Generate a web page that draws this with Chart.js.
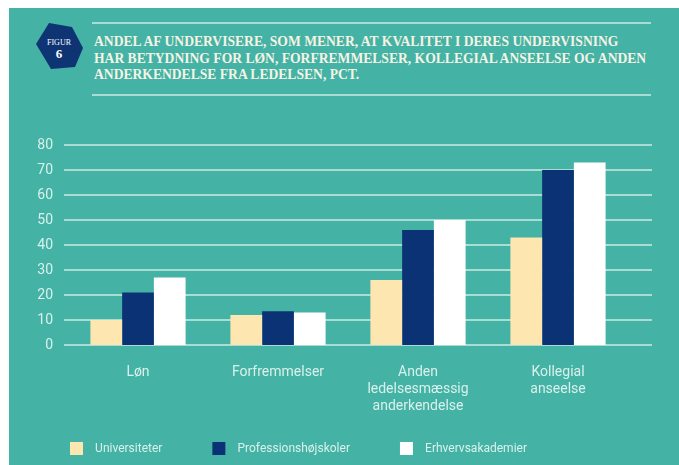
<!DOCTYPE html>
<html>
<head>
<meta charset="utf-8">
<script src="https://cdn.jsdelivr.net/npm/chart.js@4.4.0/dist/chart.umd.min.js"></script>
<style>
    html, body { margin: 0; padding: 0; background: #fff; }
    body { width: 679px; height: 465px; position: relative; overflow: hidden; }
    .panel { position: absolute; left: 9px; top: 8px; right: 0; bottom: 0; background: #44b2a5; }
    .rule { position: absolute; left: 92px; width: 559px; height: 2px; background: #a9ddd4; }
    .title {
        position: absolute; left: 94px; top: 34px; width: 580px;
        font-family: "Liberation Serif", serif; font-weight: bold; font-size: 13.6px;
        line-height: 16.7px; color: #f6f3e4; white-space: nowrap;
    }
    .badge { position: absolute; left: 35px; top: 21px; }
    #wrap { position: absolute; left: 0; top: 0; width: 679px; height: 465px; }
</style>
</head>
<body>
<div class="panel"></div>
<div class="rule" style="top:22px"></div>
<div class="rule" style="top:94px"></div>
<svg class="badge" width="50" height="50" viewBox="0 0 50 50">
    <polygon points="14,2 37,6 48,27 40,46 16,48 1,23" fill="#0e3474"/>
    <text x="24" y="24" text-anchor="middle" font-family="Liberation Serif, serif" font-size="8" fill="#fff">FIGUR</text>
    <text x="24" y="37" text-anchor="middle" font-family="Liberation Serif, serif" font-weight="bold" font-size="13" fill="#fff">6</text>
</svg>
<div class="title">ANDEL AF UNDERVISERE, SOM MENER, AT KVALITET I DERES UNDERVISNING<br>HAR BETYDNING FOR LØN, FORFREMMELSER, KOLLEGIAL ANSEELSE OG ANDEN<br>ANDERKENDELSE FRA LEDELSEN, PCT.</div>
<div id="wrap"><canvas id="chart" width="679" height="465"></canvas></div>

<script>
// Data
const categories = ['Løn', 'Forfremmelser', ['Anden', 'ledelsesmæssig', 'anderkendelse'], ['Kollegial', 'anseelse']];
const seriesNames = ['Universiteter', 'Professionshøjskoler', 'Erhvervsakademier'];
const universiteter = [10, 12, 26, 43];
const professionshojskoler = [21, 13.5, 46, 70];
const erhvervsakademier = [27, 13, 50, 73];
const yTicks = [0, 10, 20, 30, 40, 50, 60, 70, 80];

const textColor = '#d9f1ec';

// Grid lines in the original run past the plot area on both sides
const gridPlugin = {
    id: 'wideGrid',
    beforeDatasetsDraw(chart) {
        const ctx = chart.ctx;
        const area = chart.chartArea;
        const y = chart.scales.y;
        ctx.save();
        ctx.strokeStyle = '#a9ddd4';
        ctx.lineWidth = 2;
        yTicks.forEach(v => {
            const py = Math.round(y.getPixelForValue(v));
            ctx.beginPath();
            ctx.moveTo(area.left - 4, py);
            ctx.lineTo(area.right + 24, py);
            ctx.stroke();
        });
        ctx.restore();
    }
};

document.addEventListener('DOMContentLoaded', function() {
    const ctx = document.getElementById('chart').getContext('2d');
    new Chart(ctx, {
        type: 'bar',
        data: {
            labels: categories,
            datasets: [
                { label: seriesNames[0], data: universiteter, backgroundColor: '#fde6b0' },
                { label: seriesNames[1], data: professionshojskoler, backgroundColor: '#0b3275' },
                { label: seriesNames[2], data: erhvervsakademier, backgroundColor: '#ffffff' }
            ]
        },
        options: {
            responsive: false,
            animation: false,
            layout: { padding: { left: 20, right: 51, top: 145, bottom: 0 } },
            datasets: {
                bar: { categoryPercentage: 0.68, barPercentage: 1.0, borderWidth: 0 }
            },
            scales: {
                x: {
                    grid: { display: false, drawTicks: false },
                    border: { display: false },
                    ticks: {
                        color: textColor,
                        // mirror keeps the three-line labels from being clipped to the short axis box;
                        // with mirror the padding is measured upwards, hence negative
                        mirror: true,
                        padding: -36,
                        font: { family: 'Roboto', size: 14, lineHeight: 1.2 },
                        maxRotation: 0
                    },
                    afterFit(scale) { scale.height = 47; }
                },
                y: {
                    min: 0,
                    max: 80,
                    grid: { display: false, drawTicks: false },
                    border: { display: false },
                    ticks: {
                        stepSize: 10,
                        color: textColor,
                        padding: 15,
                        font: { family: 'Roboto', size: 14 }
                    },
                    afterFit(scale) { scale.width = 48; }
                }
            },
            plugins: {
                legend: {
                    position: 'bottom',
                    align: 'start',
                    labels: {
                        color: textColor,
                        boxWidth: 13,
                        boxHeight: 13,
                        padding: 50,
                        font: { family: 'Roboto', size: 12 },
                        // wider gap between box and text, as in the original
                        generateLabels(chart) {
                            return Chart.defaults.plugins.legend.labels.generateLabels(chart).map(item => {
                                item.text = '\u2002' + item.text;
                                return item;
                            });
                        }
                    }
                },
                tooltip: { enabled: false }
            }
        },
        plugins: [gridPlugin]
    });
});
</script>
</body>
</html>
